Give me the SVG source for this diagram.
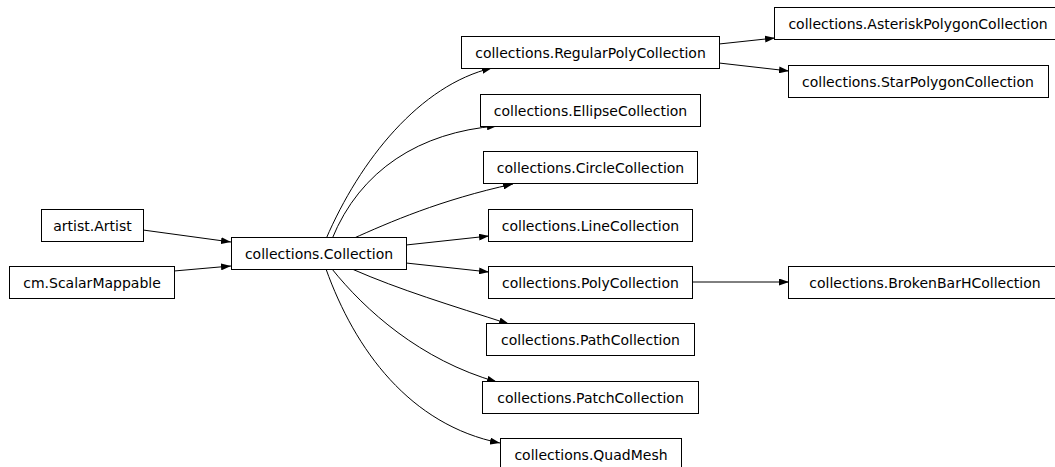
<svg xmlns="http://www.w3.org/2000/svg" width="1055" height="467" viewBox="0 0 1055 467">
<style>
.n rect{fill:#fff;stroke:#000;stroke-width:1}
.n text{font-family:"DejaVu Sans","Liberation Sans",sans-serif;font-size:14px;fill:#000;text-anchor:middle}
.e path{fill:none;stroke:#000;stroke-width:1;marker-end:url(#ah)}
</style>
<defs>
<marker id="ah" markerUnits="userSpaceOnUse" markerWidth="10" markerHeight="7" refX="10" refY="3.5" orient="auto">
<path d="M0,0 L10,3.5 L0,7 z" fill="#000"/>
</marker>
</defs>
<rect width="1055" height="467" fill="#fff"/>
<g id="connectors" class="e">
<path d="M143,230 L231,242"/>
<path d="M174,271 L231,266"/>
<path d="M326,239 C360,160 420,85 492,68"/>
<path d="M332,239 C360,170 420,132 497,126"/>
<path d="M352,239 C390,222 440,200 513,184"/>
<path d="M406,245 L489,236"/>
<path d="M406,263 L489,272"/>
<path d="M352,269 C400,290 450,305 509,324"/>
<path d="M332,269 C365,310 420,360 497,382"/>
<path d="M326,269 C355,350 410,425 500,443"/>
<path d="M719,44 L775,38"/>
<path d="M719,63 L789,71"/>
<path d="M692,282 L789,282"/>
</g>
<g id="artist" class="n"><rect x="41.5" y="209.5" width="102" height="32"/><text x="92.5" y="230.5">artist.Artist</text></g>
<g id="scalarmappable" class="n"><rect x="9.5" y="266.5" width="165" height="32"/><text x="92" y="287.5">cm.ScalarMappable</text></g>
<g id="collection" class="n"><rect x="231.5" y="237.5" width="175" height="32"/><text x="319" y="258.5">collections.Collection</text></g>
<g id="regularpoly" class="n"><rect x="461.5" y="36.5" width="258" height="32"/><text x="590.5" y="57.5">collections.RegularPolyCollection</text></g>
<g id="ellipse" class="n"><rect x="480.5" y="94.5" width="220" height="32"/><text x="590.5" y="115.5">collections.EllipseCollection</text></g>
<g id="circle" class="n"><rect x="483.5" y="151.5" width="214" height="32"/><text x="590.5" y="172.5">collections.CircleCollection</text></g>
<g id="line" class="n"><rect x="488.5" y="209.5" width="204" height="32"/><text x="590.5" y="230.5">collections.LineCollection</text></g>
<g id="poly" class="n"><rect x="488.5" y="266.5" width="204" height="32"/><text x="590.5" y="287.5">collections.PolyCollection</text></g>
<g id="path" class="n"><rect x="486.5" y="323.5" width="208" height="32"/><text x="590.5" y="344.5">collections.PathCollection</text></g>
<g id="patch" class="n"><rect x="482.5" y="381.5" width="216" height="32"/><text x="590.5" y="402.5">collections.PatchCollection</text></g>
<g id="quadmesh" class="n"><rect x="500.5" y="438.5" width="181" height="32"/><text x="591" y="459.5">collections.QuadMesh</text></g>
<g id="asterisk" class="n"><rect x="774.5" y="7.5" width="287" height="32"/><text x="918" y="28.5">collections.AsteriskPolygonCollection</text></g>
<g id="star" class="n"><rect x="788.5" y="65.5" width="260" height="32"/><text x="918" y="86.5">collections.StarPolygonCollection</text></g>
<g id="brokenbar" class="n"><rect x="788.5" y="266.5" width="273" height="32"/><text x="925" y="287.5">collections.BrokenBarHCollection</text></g>
</svg>
